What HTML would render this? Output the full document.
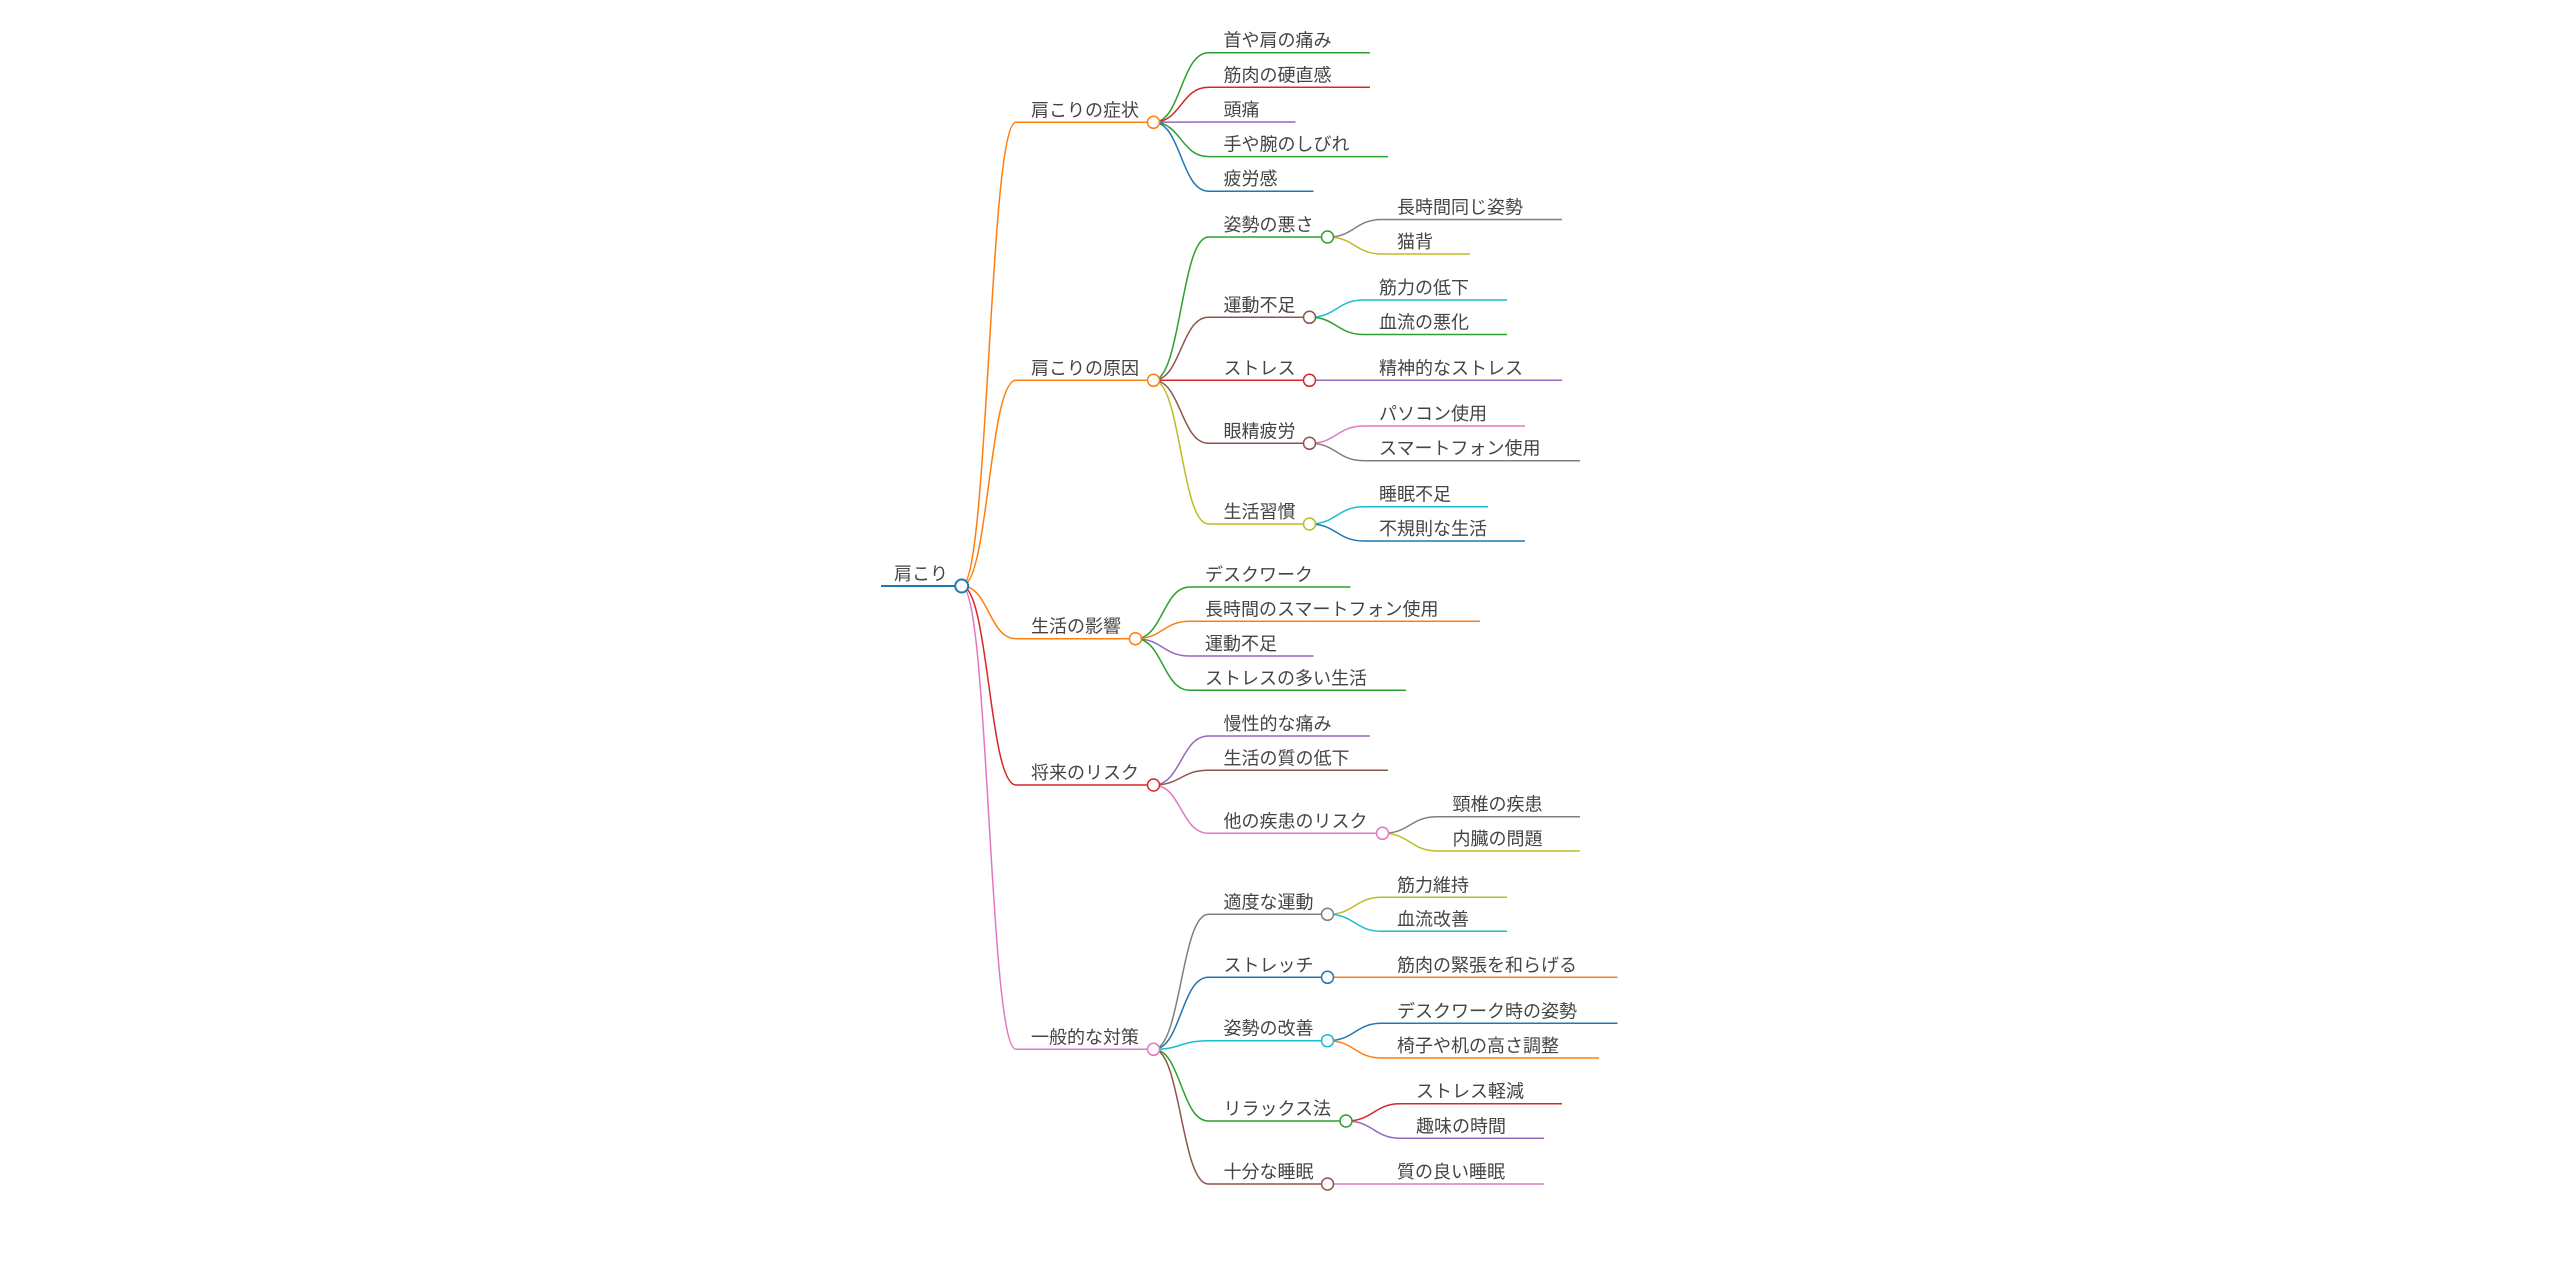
<!DOCTYPE html>
<html lang="ja">
<head>
<meta charset="utf-8">
<title>肩こり</title>
<style>
  html, body { margin: 0; padding: 0; background: #ffffff; }
  body { width: 2560px; height: 1278px; overflow: hidden; }
  svg { display: block; }
  text { font-family: "Liberation Sans", "Noto Sans CJK JP", sans-serif; font-size: 18px; fill: #444444; }
  path, line { fill: none; stroke-width: 1.5; }
  circle { fill: #ffffff; stroke-width: 1.5; }
</style>
</head>
<body>
<svg width="2560" height="1278" viewBox="0 0 2560 1278" xmlns="http://www.w3.org/2000/svg">
  <!-- ===== Links: root -> depth1 ===== -->
  <path d="M961.7,586 C988.85,586 988.85,122.3 1016,122.3" stroke="#ff7f0e"/>
  <path d="M961.7,586 C988.85,586 988.85,380.3 1016,380.3" stroke="#ff7f0e"/>
  <path d="M961.7,586 C988.85,586 988.85,638.7 1016,638.7" stroke="#ff7f0e"/>
  <path d="M961.7,586 C988.85,586 988.85,785 1016,785" stroke="#d62728"/>
  <path d="M961.7,586 C988.85,586 988.85,1049.3 1016,1049.3" stroke="#e377c2"/>

  <!-- ===== Links: 症状 -> children ===== -->
  <path d="M1153.5,122.3 C1181,122.3 1181,52.7 1208.5,52.7" stroke="#2ca02c"/>
  <path d="M1153.5,122.3 C1181,122.3 1181,87.3 1208.5,87.3" stroke="#d62728"/>
  <path d="M1153.5,122.3 C1181,122.3 1181,122 1208.5,122" stroke="#9467bd"/>
  <path d="M1153.5,122.3 C1181,122.3 1181,156.6 1208.5,156.6" stroke="#2ca02c"/>
  <path d="M1153.5,122.3 C1181,122.3 1181,191.2 1208.5,191.2" stroke="#1f77b4"/>

  <!-- ===== Links: 原因 -> children ===== -->
  <path d="M1153.5,380.3 C1181,380.3 1181,237 1208.5,237" stroke="#2ca02c"/>
  <path d="M1153.5,380.3 C1181,380.3 1181,317.3 1208.5,317.3" stroke="#8c564b"/>
  <path d="M1153.5,380.3 C1181,380.3 1181,380.3 1208.5,380.3" stroke="#d62728"/>
  <path d="M1153.5,380.3 C1181,380.3 1181,443.3 1208.5,443.3" stroke="#8c564b"/>
  <path d="M1153.5,380.3 C1181,380.3 1181,524 1208.5,524" stroke="#bcbd22"/>

  <!-- depth3 under 原因 -->
  <path d="M1327.5,237 C1354.75,237 1354.75,219.5 1382,219.5" stroke="#7f7f7f"/>
  <path d="M1327.5,237 C1354.75,237 1354.75,254 1382,254" stroke="#bcbd22"/>
  <path d="M1309.5,317.3 C1336.75,317.3 1336.75,300 1364,300" stroke="#17becf"/>
  <path d="M1309.5,317.3 C1336.75,317.3 1336.75,334.5 1364,334.5" stroke="#2ca02c"/>
  <path d="M1309.5,380.3 C1336.75,380.3 1336.75,380.3 1364,380.3" stroke="#9467bd"/>
  <path d="M1309.5,443.3 C1336.75,443.3 1336.75,426 1364,426" stroke="#e377c2"/>
  <path d="M1309.5,443.3 C1336.75,443.3 1336.75,460.7 1364,460.7" stroke="#7f7f7f"/>
  <path d="M1309.5,524 C1336.75,524 1336.75,506.7 1364,506.7" stroke="#17becf"/>
  <path d="M1309.5,524 C1336.75,524 1336.75,541 1364,541" stroke="#1f77b4"/>

  <!-- ===== Links: 影響 -> children ===== -->
  <path d="M1135.4,638.7 C1162.7,638.7 1162.7,587 1190,587" stroke="#2ca02c"/>
  <path d="M1135.4,638.7 C1162.7,638.7 1162.7,621.3 1190,621.3" stroke="#ff7f0e"/>
  <path d="M1135.4,638.7 C1162.7,638.7 1162.7,656 1190,656" stroke="#9467bd"/>
  <path d="M1135.4,638.7 C1162.7,638.7 1162.7,690.3 1190,690.3" stroke="#2ca02c"/>

  <!-- ===== Links: リスク -> children ===== -->
  <path d="M1153.5,785 C1181,785 1181,736 1208.5,736" stroke="#9467bd"/>
  <path d="M1153.5,785 C1181,785 1181,770.3 1208.5,770.3" stroke="#8c564b"/>
  <path d="M1153.5,785 C1181,785 1181,833.3 1208.5,833.3" stroke="#e377c2"/>
  <path d="M1382.5,833.3 C1410,833.3 1410,816.7 1437.5,816.7" stroke="#7f7f7f"/>
  <path d="M1382.5,833.3 C1410,833.3 1410,851 1437.5,851" stroke="#bcbd22"/>

  <!-- ===== Links: 対策 -> children ===== -->
  <path d="M1153.5,1049.3 C1181,1049.3 1181,914.3 1208.5,914.3" stroke="#7f7f7f"/>
  <path d="M1153.5,1049.3 C1181,1049.3 1181,977.3 1208.5,977.3" stroke="#1f77b4"/>
  <path d="M1153.5,1049.3 C1181,1049.3 1181,1040.7 1208.5,1040.7" stroke="#17becf"/>
  <path d="M1153.5,1049.3 C1181,1049.3 1181,1121 1208.5,1121" stroke="#2ca02c"/>
  <path d="M1153.5,1049.3 C1181,1049.3 1181,1184 1208.5,1184" stroke="#8c564b"/>

  <path d="M1327.5,914.3 C1354.75,914.3 1354.75,897.3 1382,897.3" stroke="#bcbd22"/>
  <path d="M1327.5,914.3 C1354.75,914.3 1354.75,931.3 1382,931.3" stroke="#17becf"/>
  <path d="M1327.5,977.3 C1354.75,977.3 1354.75,977.3 1382,977.3" stroke="#ff7f0e"/>
  <path d="M1327.5,1040.7 C1354.75,1040.7 1354.75,1023.3 1382,1023.3" stroke="#1f77b4"/>
  <path d="M1327.5,1040.7 C1354.75,1040.7 1354.75,1058 1382,1058" stroke="#ff7f0e"/>
  <path d="M1346,1121 C1373.5,1121 1373.5,1103.7 1401,1103.7" stroke="#d62728"/>
  <path d="M1346,1121 C1373.5,1121 1373.5,1138.3 1401,1138.3" stroke="#9467bd"/>
  <path d="M1327.5,1184 C1354.75,1184 1354.75,1184 1382,1184" stroke="#e377c2"/>

  <!-- ===== Underlines ===== -->
  <line x1="881" y1="586" x2="961.7" y2="586" stroke="#1f77b4" style="stroke-width:2"/>

  <line x1="1016" y1="122.3" x2="1153.5" y2="122.3" stroke="#ff7f0e"/>
  <line x1="1016" y1="380.3" x2="1153.5" y2="380.3" stroke="#ff7f0e"/>
  <line x1="1016" y1="638.7" x2="1135.4" y2="638.7" stroke="#ff7f0e"/>
  <line x1="1016" y1="785" x2="1153.5" y2="785" stroke="#d62728"/>
  <line x1="1016" y1="1049.3" x2="1153.5" y2="1049.3" stroke="#e377c2"/>

  <line x1="1208.5" y1="52.7" x2="1370" y2="52.7" stroke="#2ca02c"/>
  <line x1="1208.5" y1="87.3" x2="1370" y2="87.3" stroke="#d62728"/>
  <line x1="1208.5" y1="122" x2="1295.5" y2="122" stroke="#9467bd"/>
  <line x1="1208.5" y1="156.6" x2="1388" y2="156.6" stroke="#2ca02c"/>
  <line x1="1208.5" y1="191.2" x2="1313.5" y2="191.2" stroke="#1f77b4"/>

  <line x1="1208.5" y1="237" x2="1327.5" y2="237" stroke="#2ca02c"/>
  <line x1="1208.5" y1="317.3" x2="1309.5" y2="317.3" stroke="#8c564b"/>
  <line x1="1208.5" y1="380.3" x2="1309.5" y2="380.3" stroke="#d62728"/>
  <line x1="1208.5" y1="443.3" x2="1309.5" y2="443.3" stroke="#8c564b"/>
  <line x1="1208.5" y1="524" x2="1309.5" y2="524" stroke="#bcbd22"/>

  <line x1="1382" y1="219.5" x2="1562" y2="219.5" stroke="#7f7f7f"/>
  <line x1="1382" y1="254" x2="1470" y2="254" stroke="#bcbd22"/>
  <line x1="1364" y1="300" x2="1507" y2="300" stroke="#17becf"/>
  <line x1="1364" y1="334.5" x2="1507" y2="334.5" stroke="#2ca02c"/>
  <line x1="1364" y1="380.3" x2="1562" y2="380.3" stroke="#9467bd"/>
  <line x1="1364" y1="426" x2="1525" y2="426" stroke="#e377c2"/>
  <line x1="1364" y1="460.7" x2="1580" y2="460.7" stroke="#7f7f7f"/>
  <line x1="1364" y1="506.7" x2="1488" y2="506.7" stroke="#17becf"/>
  <line x1="1364" y1="541" x2="1525" y2="541" stroke="#1f77b4"/>

  <line x1="1190" y1="587" x2="1350.5" y2="587" stroke="#2ca02c"/>
  <line x1="1190" y1="621.3" x2="1480" y2="621.3" stroke="#ff7f0e"/>
  <line x1="1190" y1="656" x2="1313.5" y2="656" stroke="#9467bd"/>
  <line x1="1190" y1="690.3" x2="1406" y2="690.3" stroke="#2ca02c"/>

  <line x1="1208.5" y1="736" x2="1370" y2="736" stroke="#9467bd"/>
  <line x1="1208.5" y1="770.3" x2="1388" y2="770.3" stroke="#8c564b"/>
  <line x1="1208.5" y1="833.3" x2="1382.5" y2="833.3" stroke="#e377c2"/>
  <line x1="1437.5" y1="816.7" x2="1580" y2="816.7" stroke="#7f7f7f"/>
  <line x1="1437.5" y1="851" x2="1580" y2="851" stroke="#bcbd22"/>

  <line x1="1208.5" y1="914.3" x2="1327.5" y2="914.3" stroke="#7f7f7f"/>
  <line x1="1208.5" y1="977.3" x2="1327.5" y2="977.3" stroke="#1f77b4"/>
  <line x1="1208.5" y1="1040.7" x2="1327.5" y2="1040.7" stroke="#17becf"/>
  <line x1="1208.5" y1="1121" x2="1346" y2="1121" stroke="#2ca02c"/>
  <line x1="1208.5" y1="1184" x2="1327.5" y2="1184" stroke="#8c564b"/>

  <line x1="1382" y1="897.3" x2="1507" y2="897.3" stroke="#bcbd22"/>
  <line x1="1382" y1="931.3" x2="1507" y2="931.3" stroke="#17becf"/>
  <line x1="1382" y1="977.3" x2="1617.5" y2="977.3" stroke="#ff7f0e"/>
  <line x1="1382" y1="1023.3" x2="1617.5" y2="1023.3" stroke="#1f77b4"/>
  <line x1="1382" y1="1058" x2="1599" y2="1058" stroke="#ff7f0e"/>
  <line x1="1401" y1="1103.7" x2="1562" y2="1103.7" stroke="#d62728"/>
  <line x1="1401" y1="1138.3" x2="1544" y2="1138.3" stroke="#9467bd"/>
  <line x1="1382" y1="1184" x2="1544" y2="1184" stroke="#e377c2"/>

  <!-- ===== Circles ===== -->
  <circle cx="961.7" cy="586" r="6.5" stroke="#1f77b4" style="stroke-width:2"/>
  <circle cx="1153.5" cy="122.3" r="6" stroke="#ff7f0e"/>
  <circle cx="1153.5" cy="380.3" r="6" stroke="#ff7f0e"/>
  <circle cx="1135.4" cy="638.7" r="6" stroke="#ff7f0e"/>
  <circle cx="1153.5" cy="785" r="6" stroke="#d62728"/>
  <circle cx="1153.5" cy="1049.3" r="6" stroke="#e377c2"/>

  <circle cx="1327.5" cy="237" r="6" stroke="#2ca02c"/>
  <circle cx="1309.5" cy="317.3" r="6" stroke="#8c564b"/>
  <circle cx="1309.5" cy="380.3" r="6" stroke="#d62728"/>
  <circle cx="1309.5" cy="443.3" r="6" stroke="#8c564b"/>
  <circle cx="1309.5" cy="524" r="6" stroke="#bcbd22"/>
  <circle cx="1382.5" cy="833.3" r="6" stroke="#e377c2"/>
  <circle cx="1327.5" cy="914.3" r="6" stroke="#7f7f7f"/>
  <circle cx="1327.5" cy="977.3" r="6" stroke="#1f77b4"/>
  <circle cx="1327.5" cy="1040.7" r="6" stroke="#17becf"/>
  <circle cx="1346" cy="1121" r="6" stroke="#2ca02c"/>
  <circle cx="1327.5" cy="1184" r="6" stroke="#8c564b"/>

  <!-- ===== Text ===== -->
  <text x="894" y="580">肩こり</text>

  <text x="1031" y="116.3">肩こりの症状</text>
  <text x="1031" y="374.3">肩こりの原因</text>
  <text x="1031" y="632.7">生活の影響</text>
  <text x="1031" y="779">将来のリスク</text>
  <text x="1031" y="1043.3">一般的な対策</text>

  <text x="1223.5" y="46.7">首や肩の痛み</text>
  <text x="1223.5" y="81.3">筋肉の硬直感</text>
  <text x="1223.5" y="116">頭痛</text>
  <text x="1223.5" y="150.6">手や腕のしびれ</text>
  <text x="1223.5" y="185.2">疲労感</text>

  <text x="1223.5" y="231">姿勢の悪さ</text>
  <text x="1223.5" y="311.3">運動不足</text>
  <text x="1223.5" y="374.3">ストレス</text>
  <text x="1223.5" y="437.3">眼精疲労</text>
  <text x="1223.5" y="518">生活習慣</text>

  <text x="1397" y="213.5">長時間同じ姿勢</text>
  <text x="1397" y="248">猫背</text>
  <text x="1379" y="294">筋力の低下</text>
  <text x="1379" y="328.5">血流の悪化</text>
  <text x="1379" y="374.3">精神的なストレス</text>
  <text x="1379" y="420">パソコン使用</text>
  <text x="1379" y="454.7">スマートフォン使用</text>
  <text x="1379" y="500.7">睡眠不足</text>
  <text x="1379" y="535">不規則な生活</text>

  <text x="1205" y="581">デスクワーク</text>
  <text x="1205" y="615.3">長時間のスマートフォン使用</text>
  <text x="1205" y="650">運動不足</text>
  <text x="1205" y="684.3">ストレスの多い生活</text>

  <text x="1223.5" y="730">慢性的な痛み</text>
  <text x="1223.5" y="764.3">生活の質の低下</text>
  <text x="1223.5" y="827.3">他の疾患のリスク</text>
  <text x="1452.5" y="810.7">頸椎の疾患</text>
  <text x="1452.5" y="845">内臓の問題</text>

  <text x="1223.5" y="908.3">適度な運動</text>
  <text x="1223.5" y="971.3">ストレッチ</text>
  <text x="1223.5" y="1034.7">姿勢の改善</text>
  <text x="1223.5" y="1115">リラックス法</text>
  <text x="1223.5" y="1178">十分な睡眠</text>

  <text x="1397" y="891.3">筋力維持</text>
  <text x="1397" y="925.3">血流改善</text>
  <text x="1397" y="971.3">筋肉の緊張を和らげる</text>
  <text x="1397" y="1017.3">デスクワーク時の姿勢</text>
  <text x="1397" y="1052">椅子や机の高さ調整</text>
  <text x="1416" y="1097.7">ストレス軽減</text>
  <text x="1416" y="1132.3">趣味の時間</text>
  <text x="1397" y="1178">質の良い睡眠</text>
</svg>
</body>
</html>
